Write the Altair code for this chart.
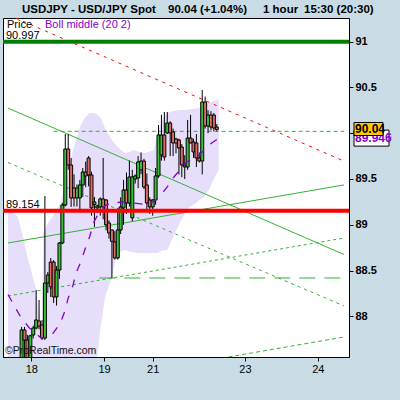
import json
import altair as alt
import pandas as pd

# ---- hourly candles (index 0 = first visible bar) ----
opens = [87.47, 87.853, 87.743, 87.50, 87.798, 87.874, 87.951, 87.907, 87.765, 88.365,
         88.594, 88.594, 88.213, 88.507, 88.802, 89.216, 89.827, 89.653, 89.402, 89.293,
         89.293, 89.435, 89.576, 89.729, 89.544, 89.22, 89.184, 89.195, 89.282, 89.271,
         89.02, 88.944, 88.813, 88.638, 88.944, 89.184, 89.38, 89.238, 89.075, 89.50,
         89.511, 89.60, 89.696, 89.435, 89.271, 89.195, 89.271, 89.533, 89.762, 89.98,
         90.002, 90.111, 90.013, 89.936, 89.925, 89.849, 89.631, 89.631, 89.947, 89.904,
         89.893, 89.729, 89.696, 90.340, 90.078, 90.198, 90.198, 90.067]
highs = [87.886, 87.886, 87.80, 87.80, 87.90, 88.289, 88.180, 87.96, 89.315, 88.485,
         88.638, 88.616, 88.55, 88.813, 89.24, 89.99, 89.99, 89.729, 89.55, 89.44,
         89.49, 89.62, 89.69, 89.75, 89.58, 89.304, 89.22, 89.30, 89.729, 89.28,
         89.05, 88.95, 88.93, 89.18, 89.30, 89.49, 89.57, 89.70, 89.60, 89.55,
         89.75, 89.79, 89.72, 89.56, 89.30, 89.28, 89.62, 90.089, 90.20, 90.231,
         90.231, 90.13, 90.05, 89.95, 89.94, 89.88, 89.76, 90.144, 90.20, 89.94,
         89.99, 89.79, 90.471, 90.40, 90.25, 90.24, 90.22, 90.10]
lows = [87.40, 87.45, 87.42, 87.45, 87.76, 87.86, 87.86, 87.743, 87.743, 88.256,
        88.213, 88.147, 88.12, 88.41, 88.79, 89.20, 89.60, 89.195, 89.20, 89.20,
        89.17, 89.304, 89.41, 89.42, 89.10, 88.976, 89.13, 89.10, 89.06, 88.94,
        88.85, 88.42, 88.62, 88.62, 88.90, 89.00, 89.12, 89.20, 89.04, 89.45,
        89.40, 89.55, 89.39, 89.17, 89.12, 89.10, 89.22, 89.51, 89.70, 89.70,
        89.99, 89.75, 89.75, 89.78, 89.55, 89.52, 89.50, 89.60, 89.89, 89.73,
        89.63, 89.68, 89.55, 90.05, 90.00, 90.03, 90.02, 90.02]
closes = [87.853, 87.743, 87.50, 87.79, 87.874, 87.962, 87.896, 87.765, 88.365, 88.453,
          88.322, 88.213, 88.507, 88.802, 89.216, 89.827, 89.653, 89.293, 89.293, 89.402,
          89.435, 89.576, 89.533, 89.544, 89.184, 89.25, 89.206, 89.282, 89.195, 89.00,
          88.911, 88.82, 88.638, 88.944, 89.195, 89.38, 89.238, 89.522, 89.522, 89.533,
          89.686, 89.696, 89.413, 89.238, 89.195, 89.271, 89.533, 89.98, 89.98, 89.740,
          90.111, 90.002, 89.893, 89.893, 89.838, 89.653, 89.653, 89.947, 89.893, 89.795,
          89.729, 89.696, 90.340, 90.078, 90.198, 90.067, 90.056, 90.04]

# ---- Bollinger (20, 2) ----
band_x = [-4.67, -3, -1.33, 0.33, 2, 3.67, 5, 6, 7, 7.4, 8.67, 11, 13.33, 15.33, 17.67,
          20, 21.67, 23.33, 25, 26, 27, 28.67, 31, 32.67, 35.33, 37, 38.67, 40.33, 42,
          43.67, 45.33, 46.67, 48.33, 50, 52, 54.33, 56.67, 58, 60, 61, 62.67, 63.33,
          64.33, 65.33, 66, 67.67]
band_upper = [89.162, 89.140, 89.085, 88.889, 88.649, 88.453, 88.289, 88.016, 87.798, 88.91,
              88.998, 89.107, 89.238, 89.489, 89.816, 90.067, 90.166, 90.220, 90.220, 90.20,
              90.176, 90.05, 89.925, 89.86, 89.784, 89.795, 89.816, 89.795, 89.784, 89.795,
              89.816, 90.002, 90.144, 90.220, 90.242, 90.253, 90.253, 90.26, 90.27, 90.275,
              90.307, 90.31, 90.329, 90.34, 90.351, 90.362]
band_lower = [87.30, 87.30, 87.30, 87.25, 87.20, 87.15, 87.10, 87.10, 87.10, 87.05,
              87.05, 87.10, 87.15, 87.20, 87.25, 87.30, 87.35, 87.40, 87.50, 87.558,
              87.853, 88.213, 88.431, 88.693, 88.726, 88.71, 88.70, 88.693, 88.693, 88.693,
              88.693, 88.693, 88.72, 88.726, 88.867, 89.020, 89.162, 89.20, 89.238, 89.27,
              89.30, 89.347, 89.38, 89.456, 89.50, 89.598]
boll_x = [-4.67, -2.67, -0.33, 2.67, 6.67, 9.33, 10.33, 13.33, 15, 16, 17.67, 18.67, 20.33,
          21.67, 23.33, 24.67, 27, 29, 31, 35, 38.67, 43.33, 47, 50, 52, 56.67, 61, 64.33, 67.67]
boll_mid = [88.24, 88.126, 87.995, 87.875, 87.766, 87.777, 87.798, 87.929, 88.071, 88.202,
            88.344, 88.475, 88.595, 88.726, 88.867, 89.020, 89.162, 89.216, 89.238, 89.249,
            89.238, 89.216, 89.293, 89.413, 89.511, 89.686, 89.762, 89.871, 89.946]

# ---- drawn trend lines: (x0, x1), (p0, p1), colour, dash ----
trendlines = [
    ([-2.0, 110.67], [91.256, 89.695], "#FF0000", [3, 5]),
    ([-4.67, 110.67], [90.274, 88.676], "#33B233", None),
    ([-4.67, 110.67], [88.802, 89.435], "#33B233", None),
    ([11.0, 110.67], [90.02, 90.02], "#33B233", [4, 3]),
    ([-4.67, 110.67], [89.680, 88.115], "#33B233", [3, 4]),
    ([-4.67, 110.67], [88.224, 88.856], "#33B233", [3, 3]),
    ([71.0, 110.67], [87.558, 87.776], "#33B233", [4, 3]),
    ([26.67, 110.67], [88.42, 88.42], "#33B233", [16, 9]),
]
resistance = 90.997
support = 89.154
last_price = 90.04
last_boll = 89.946

# ---- axes ----
x_domain = [-4.667, 110.667]
y_domain = [87.558, 91.2564]
day_pos = [3.33, 28.33, 45.0, 76.67, 101.67]
day_lbl = ["18", "19", "21", "23", "24"]
price_ticks = [88, 88.5, 89, 89.5, 90, 90.5, 91]

FONT = "Liberation Sans"
PURPLE = "#8800CC"

candles = pd.DataFrame({"i": list(range(len(closes))), "open": opens, "high": highs,
                        "low": lows, "close": closes})
candles["dir"] = ["up" if c >= o else "down" for o, c in zip(opens, closes)]
band = pd.DataFrame({"x": band_x, "upper": band_upper, "lower": band_lower})
boll = pd.DataFrame({"x": boll_x, "mid": boll_mid})

xs = alt.Scale(domain=x_domain, nice=False, zero=False)
ys = alt.Scale(domain=y_domain, nice=False, zero=False)

label_expr = f"{json.dumps(day_lbl)}[indexof({json.dumps(day_pos)}, datum.value)]"
x_axis = alt.Axis(values=day_pos, labelExpr=label_expr, title=None, grid=False,
                  tickSize=4, labelFontSize=11, labelFont=FONT, labelColor="black",
                  domainColor="black", tickColor="black", labelPadding=2, labelFlush=False)
# the 90 label sits under the last-price tag, so it is left blank
y_axis = alt.Axis(values=price_ticks, labelExpr="datum.value == 90 ? '' : format(datum.value, '.1~f')",
                  orient="right", title=None, grid=False,
                  tickSize=4, labelFontSize=11, labelFontWeight="bold", labelFont=FONT,
                  labelColor="black", domainColor="black", tickColor="black",
                  labelPadding=2, labelOverlap=False, labelBound=False)

X = lambda f: alt.X(f, type="quantitative", scale=xs, axis=x_axis)
Y = lambda f: alt.Y(f, type="quantitative", scale=ys, axis=y_axis)

band_layer = alt.Chart(band).mark_area(color="#E6DEFA", opacity=1, clip=True).encode(
    x=X("x"), y=Y("upper"), y2="lower")

wicks = alt.Chart(candles).mark_rule(color="black", strokeWidth=1, clip=True).encode(
    x=X("i"), y=Y("low"), y2="high")
bodies = alt.Chart(candles).mark_bar(width=3, stroke="black", strokeWidth=1, clip=True).encode(
    x=X("i"), y=Y("open"), y2="close",
    color=alt.Color("dir:N", scale=alt.Scale(domain=["up", "down"],
                                             range=["#33C433", "#DD6B66"]), legend=None))

line_layers = []
for lx, lp, col, dash in trendlines:
    df = pd.DataFrame({"x": lx, "p": lp})
    kw = dict(color=col, strokeWidth=1, clip=True)
    if dash:
        kw["strokeDash"] = dash
    line_layers.append(alt.Chart(df).mark_line(**kw).encode(x=X("x"), y=Y("p")))

boll_layer = alt.Chart(boll).mark_line(color=PURPLE, strokeWidth=1.3, strokeDash=[8, 9],
                                       clip=True).encode(x=X("x"), y=Y("mid"))

levels = pd.DataFrame({"p": [resistance, support], "c": ["#008000", "#FF0000"]})
level_rules = alt.Chart(levels).mark_rule(strokeWidth=4).encode(
    y=Y("p"), color=alt.Color("c:N", scale=None))

one = pd.DataFrame({"a": [0]})
base = alt.Chart(one)

level_text = alt.Chart(pd.DataFrame({"p": [resistance, support],
                                     "t": [f"{resistance:.3f}", f"{support:.3f}"]})).mark_text(
    align="left", baseline="alphabetic", font=FONT, fontSize=11, color="black", dy=-3
).encode(x=alt.value(3), y=Y("p"), text="t:N")

legend_price = base.mark_text(align="left", baseline="alphabetic", font=FONT, fontSize=11,
                              color="black", text="Price").encode(x=alt.value(4), y=alt.value(10))
legend_boll = base.mark_text(align="left", baseline="alphabetic", font=FONT, fontSize=11,
                             color=PURPLE, text="Boll middle (20 2)").encode(
    x=alt.value(42), y=alt.value(10))
watermark = base.mark_text(align="left", baseline="alphabetic", font=FONT, fontSize=10.5,
                           color="#111111", text="©ProRealTime.com").encode(
    x=alt.value(2), y=alt.value(336))

title_parts = [(19, "USDJPY - USD/JPY Spot"), (165, f"{last_price:.2f} (+1.04%)"),
               (260, "1 hour"), (301, "15:30 (20:30)")]
title_layers = [base.mark_text(align="left", baseline="alphabetic", font=FONT, fontSize=11.5,
                               fontWeight="bold", color="black", text=t).encode(
    x=alt.value(px), y=alt.value(-5)) for px, t in title_parts]

# last-value tags on the price axis
tags = pd.DataFrame({"p": [last_boll], "t": [f"{last_boll:.3f}"]})
boll_box = alt.Chart(tags).mark_rect(fill="white", stroke="black", strokeWidth=1,
                                     yOffset=-8, y2Offset=8).encode(
    x=alt.value(351), x2=alt.value(386), y=Y("p"), y2="p")
boll_tag = alt.Chart(tags).mark_text(align="left", baseline="alphabetic", font=FONT,
                                     fontSize=12, fontWeight="bold", color=PURPLE, dy=4).encode(
    x=alt.value(352), y=Y("p"), text="t:N")
price_tag_df = pd.DataFrame({"p": [last_price], "t": [f"{last_price:.2f}"]})
price_box = alt.Chart(price_tag_df).mark_rect(fill="#FFC800", stroke="black", strokeWidth=1,
                                              yOffset=-7, y2Offset=6).encode(
    x=alt.value(351), x2=alt.value(380), y=Y("p"), y2="p")
price_tag = alt.Chart(price_tag_df).mark_text(align="left", baseline="alphabetic", font=FONT,
                                              fontSize=12, fontWeight="bold", color="black",
                                              dy=4).encode(
    x=alt.value(352), y=Y("p"), text="t:N")

chart = alt.layer(
    band_layer, *line_layers, wicks, bodies, boll_layer, level_rules, level_text,
    legend_price, legend_boll, watermark, *title_layers,
    boll_box, boll_tag, price_box, price_tag
).properties(
    width=346, height=339, background="#C9DCE5",
    padding={"left": 3, "top": 18, "right": 51, "bottom": 43},
    autosize=alt.AutoSizeParams(type="none"),
).configure_view(fill="white", stroke="black", strokeWidth=1)

chart.save("out.html", embed_options={"renderer": "svg", "actions": False})
